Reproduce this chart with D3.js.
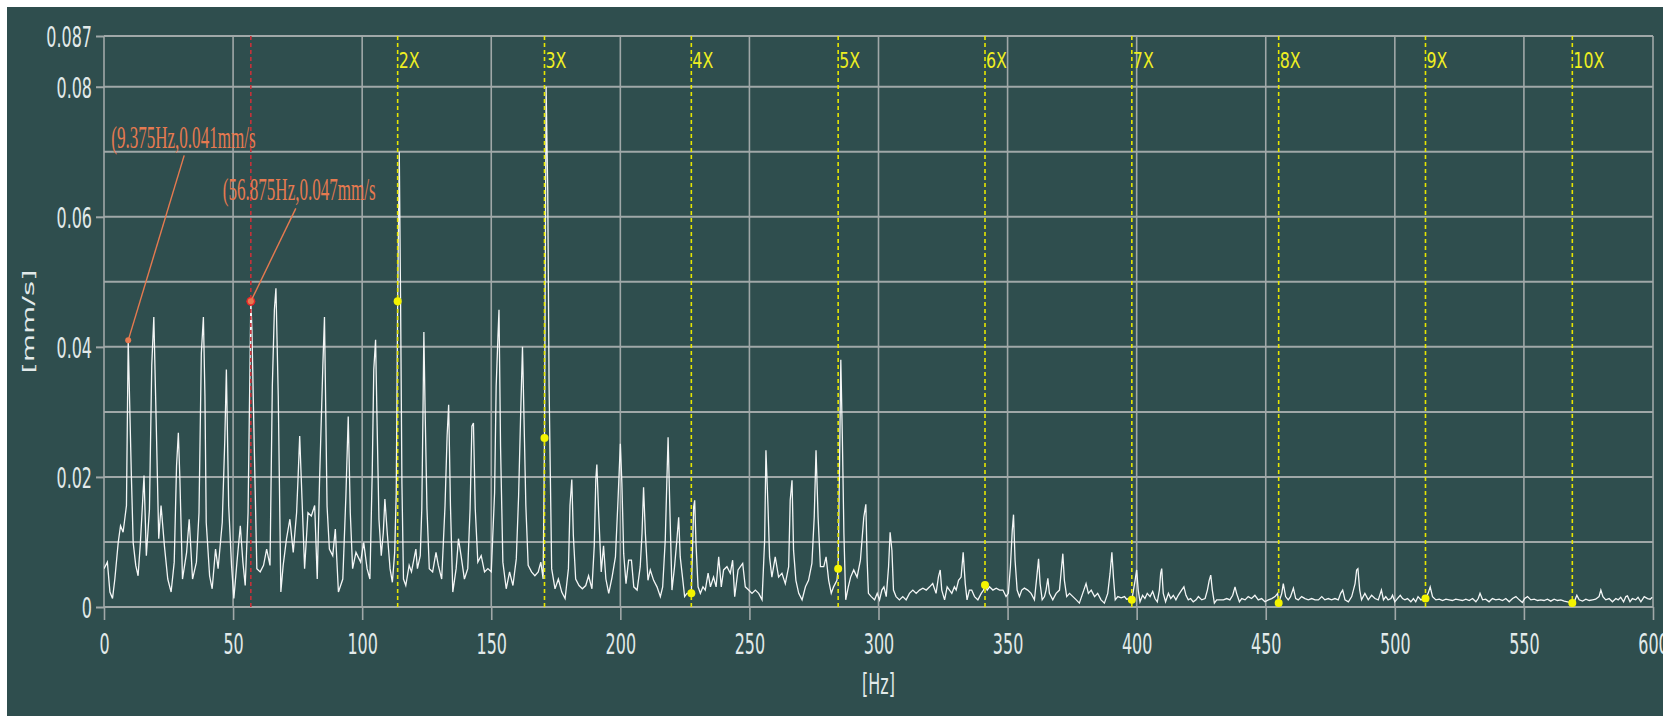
<!DOCTYPE html>
<html>
<head>
<meta charset="utf-8">
<script src="https://cdn.jsdelivr.net/npm/d3@7"></script>
<style>
  html, body { margin: 0; padding: 0; background: #ffffff; }
  svg { display: block; }
</style>
</head>
<body>
<svg id="chart" width="1663" height="716"></svg>
<script>
// spectrum: [frequency Hz, amplitude mm/s]
const spectrum = [
  [0,0.0059],[1.3,0.0069],[2.3,0.0023],[3.3,0.0013],[4.2,0.0043],[5.5,0.0099],[6.4,0.0125],[7.4,0.0115],[8.7,0.0156],[9.375,0.041],
  [10.6,0.0202],[11.3,0.0099],[12.3,0.0064],[13.2,0.0048],[14.1,0.0099],[15.5,0.0202],[16.4,0.0079],[17.6,0.0150],[18.5,0.0372],[19.3,0.0446],
  [20.2,0.0288],[21.2,0.0105],[22.1,0.0156],[23.4,0.0094],[24.7,0.0043],[26.0,0.0023],[27.2,0.0069],[28.1,0.0217],[28.8,0.0268],[29.4,0.0196],
  [30.4,0.0043],[32.0,0.0084],[33.0,0.0135],[34.3,0.0043],[35.8,0.0069],[36.8,0.0145],[37.7,0.0390],[38.5,0.0446],[39.1,0.0324],[39.6,0.0130],
  [40.9,0.0048],[41.9,0.0028],[43.2,0.0089],[44.2,0.0059],[45.8,0.0130],[46.8,0.0258],[47.4,0.0365],[48.3,0.0155],[49.4,0.0064],[50.3,0.0013],
  [51.5,0.0069],[52.8,0.0125],[53.8,0.0069],[54.7,0.0033],[55.8,0.0145],[56.875,0.047],[57.3,0.0426],[58.2,0.0247],[59.2,0.0059],[60.5,0.0054],
  [61.8,0.0064],[63.0,0.0089],[64.3,0.0064],[65.2,0.0339],[66.0,0.0457],[66.6,0.049],[67.5,0.0324],[68.5,0.0023],[69.4,0.0064],[70.7,0.0105],
  [72.0,0.0135],[73.3,0.0084],[74.6,0.0145],[75.2,0.0201],[75.8,0.0263],[76.7,0.0166],[77.7,0.0059],[79.0,0.0145],[80.3,0.0140],[81.6,0.0156],
  [82.6,0.0043],[83.5,0.0196],[84.8,0.0375],[85.4,0.0446],[86.4,0.0155],[87.3,0.0089],[88.6,0.0079],[89.6,0.0120],[90.8,0.0023],[92.5,0.0043],
  [93.7,0.0171],[94.6,0.0293],[95.4,0.0145],[96.3,0.0059],[97.6,0.0084],[99.4,0.0069],[100.6,0.0099],[101.9,0.0059],[103.0,0.0043],[103.9,0.0207],
  [104.5,0.0365],[105.2,0.0411],[105.8,0.0278],[106.5,0.0135],[107.4,0.0079],[108.2,0.0115],[108.8,0.0166],[109.7,0.0115],[110.8,0.0059],[111.7,0.0038],
  [112.6,0.0084],[113.2,0.0176],[113.75,0.047],[114.375,0.070],[114.9,0.046],[115.4,0.019],[116.0,0.0043],[116.9,0.0033],[118.2,0.0064],[119.1,0.0054],
  [120.8,0.0089],[121.4,0.0059],[122.5,0.0079],[123.1,0.0151],[123.6,0.0314],[123.9,0.0423],[124.4,0.0298],[125.1,0.0151],[126.0,0.0059],[127.3,0.0054],
  [128.6,0.0084],[129.5,0.0064],[130.8,0.0043],[132.1,0.0156],[132.9,0.0263],[133.5,0.0311],[134.2,0.0156],[135.1,0.0023],[136.4,0.0059],[137.3,0.0105],
  [138.3,0.0079],[139.6,0.0043],[140.9,0.0059],[141.8,0.0151],[142.5,0.0278],[143.1,0.0283],[143.8,0.0151],[144.8,0.0069],[146.1,0.0079],[147.4,0.0054],
  [148.7,0.0059],[150.0,0.0054],[151.3,0.0176],[151.9,0.0339],[152.6,0.0416],[153.0,0.0457],[153.6,0.0247],[154.5,0.0069],[155.8,0.0028],[157.1,0.0054],
  [158.4,0.0033],[159.7,0.0074],[160.6,0.0171],[161.4,0.0298],[162.1,0.0400],[162.7,0.0288],[163.4,0.0156],[164.3,0.0064],[165.6,0.0054],[166.9,0.0048],
  [168.2,0.0054],[169.2,0.0069],[170.1,0.0043],[170.625,0.026],[171.25,0.080],[171.875,0.064],[172.4,0.034],[173.4,0.0059],[174.7,0.0028],[176.0,0.0043],
  [177.3,0.0023],[178.6,0.0013],[179.9,0.0059],[180.5,0.0156],[181.2,0.0196],[181.8,0.0110],[182.7,0.0043],[184.0,0.0033],[185.3,0.0028],[186.6,0.0033],
  [187.7,0.0048],[189.0,0.0028],[189.9,0.0094],[190.5,0.0196],[190.9,0.0219],[191.6,0.0145],[192.6,0.0054],[193.5,0.0094],[194.4,0.0043],[195.5,0.0021],
  [196.8,0.0046],[198.1,0.0077],[199.1,0.0164],[200.0,0.0251],[200.6,0.0190],[201.3,0.0082],[202.2,0.0036],[203.2,0.0072],[204.3,0.0072],[205.2,0.0031],
  [206.5,0.0026],[207.7,0.0062],[208.4,0.0113],[209.0,0.0184],[209.7,0.0113],[210.7,0.0041],[211.6,0.0057],[212.9,0.0041],[214.2,0.0031],[215.5,0.0016],
  [216.4,0.0031],[217.4,0.0103],[218.1,0.0205],[218.5,0.0261],[219.1,0.0164],[220.0,0.0026],[221.0,0.0062],[221.9,0.0103],[222.6,0.0138],[223.2,0.0077],
  [223.9,0.0052],[224.9,0.0016],[225.8,0.0021],[227.5,0.0021],[228.4,0.0154],[228.8,0.0164],[229.3,0.0098],[230.1,0.0031],[231.0,0.0021],[232.0,0.0031],
  [232.9,0.0026],[234.0,0.0052],[234.9,0.0031],[236.1,0.0046],[237.1,0.0031],[238.1,0.0077],[239.1,0.0031],[240.0,0.0057],[241.3,0.0062],[242.6,0.0052],
  [243.5,0.0072],[244.3,0.0016],[245.6,0.0057],[246.5,0.0062],[247.4,0.0067],[248.4,0.0031],[249.7,0.0026],[251.0,0.0021],[252.3,0.0026],[253.6,0.0021],
  [254.9,0.0011],[255.9,0.0103],[256.4,0.0241],[257.2,0.0154],[257.8,0.0077],[258.7,0.0046],[260.0,0.0077],[261.3,0.0046],[262.6,0.0052],[263.9,0.0036],
  [265.2,0.0062],[265.8,0.0164],[266.5,0.0195],[267.1,0.0087],[268.0,0.0041],[269.1,0.0021],[270.4,0.0011],[271.7,0.0031],[272.9,0.0041],[274.2,0.0067],
  [275.1,0.0138],[275.8,0.0241],[276.6,0.0138],[277.5,0.0062],[278.8,0.0062],[279.7,0.0077],[280.7,0.0041],[281.7,0.0021],[282.6,0.0031],[283.9,0.0041],
  [284.375,0.0059],[284.9,0.0215],[285.4,0.038],[286.0,0.026],[286.6,0.0113],[287.3,0.0011],[288.3,0.0031],[289.2,0.0046],[290.4,0.0057],[291.7,0.0046],
  [293.0,0.0072],[294.3,0.0138],[295.1,0.0158],[295.6,0.0072],[296.1,0.0021],[297.2,0.0016],[298.5,0.0011],[299.5,0.0021],[300.4,0.0011],[301.3,0.0026],
  [302.1,0.0031],[303.0,0.0016],[303.9,0.0062],[304.5,0.0115],[305.2,0.0087],[305.8,0.0026],[306.8,0.0016],[308.1,0.0011],[309.4,0.0016],[310.7,0.0011],
  [312.0,0.0021],[313.3,0.0026],[314.6,0.0021],[315.9,0.0026],[317.2,0.0029],[318.5,0.0026],[319.8,0.0031],[321.0,0.0036],[322.3,0.0021],[323.2,0.0046],
  [323.9,0.0057],[324.5,0.0026],[325.6,0.0011],[326.6,0.0031],[327.5,0.0026],[328.4,0.0021],[329.4,0.0031],[330.1,0.0026],[331.0,0.0041],[332.0,0.0046],
  [332.8,0.0084],[333.6,0.0036],[334.3,0.0011],[335.2,0.0026],[336.1,0.0026],[337.2,0.0016],[338.5,0.0011],[339.8,0.0021],[340.7,0.0026],[341.25,0.0034],
  [342.1,0.0026],[343.0,0.0031],[344.3,0.0026],[345.6,0.0029],[346.9,0.0026],[348.2,0.0026],[349.4,0.0016],[350.3,0.0021],[351.1,0.0062],[351.8,0.0117],
  [352.3,0.0142],[352.9,0.0072],[353.7,0.0026],[354.6,0.0016],[355.5,0.0026],[356.5,0.0029],[357.8,0.0026],[359.1,0.0021],[360.4,0.0011],[361.3,0.0046],
  [362.0,0.0074],[362.6,0.0036],[363.4,0.0011],[364.3,0.0016],[364.9,0.0026],[365.6,0.0044],[366.2,0.0021],[367.5,0.0011],[368.8,0.0021],[370.1,0.0026],
  [370.7,0.0052],[371.4,0.0082],[372.0,0.0041],[372.9,0.0016],[374.0,0.0021],[375.3,0.0016],[376.6,0.0011],[377.8,0.0006],[379.1,0.0021],[380.4,0.0036],
  [381.3,0.0021],[382.4,0.0026],[383.7,0.0016],[384.9,0.0021],[386.2,0.0011],[387.5,0.0006],[388.8,0.0021],[389.7,0.0052],[390.4,0.0084],[391.0,0.0046],
  [391.7,0.0011],[392.7,0.0016],[394.0,0.0014],[395.3,0.0016],[396.1,0.0012],[397.4,0.0013],[398.125,0.0011],[399.4,0.0041],[400.0,0.0057],[400.6,0.0026],
  [401.3,0.0008],[402.3,0.0018],[403.2,0.0013],[404.1,0.0021],[405.2,0.0016],[406.2,0.0024],[407.1,0.0013],[408.0,0.0008],[408.8,0.0026],[409.3,0.0052],
  [409.7,0.0059],[410.3,0.0021],[411.2,0.0008],[412.3,0.0021],[413.2,0.0013],[414.2,0.0018],[415.2,0.0011],[416.1,0.0018],[417.4,0.0026],[418.3,0.0031],
  [419.1,0.0018],[420.0,0.0011],[420.9,0.0013],[421.9,0.0008],[423.0,0.0011],[423.9,0.0016],[425.2,0.0011],[426.5,0.0013],[427.4,0.0026],[428.1,0.0041],
  [428.7,0.0049],[429.3,0.0026],[430.1,0.0006],[431.0,0.0011],[432.3,0.0011],[433.6,0.0011],[434.9,0.0013],[436.1,0.0011],[437.2,0.0018],[438.1,0.0031],
  [438.7,0.0021],[439.8,0.0008],[440.7,0.0013],[442.0,0.0011],[443.2,0.0016],[444.5,0.0013],[445.8,0.0018],[447.1,0.0011],[448.4,0.0013],[449.7,0.0008],
  [451.0,0.0011],[452.3,0.0013],[453.6,0.0016],[454.6,0.0021],[455.0,0.0006],[456.2,0.0021],[456.8,0.0036],[457.7,0.0016],[458.7,0.0011],[459.6,0.0016],
  [460.7,0.0029],[461.6,0.0013],[462.6,0.0011],[463.9,0.0016],[465.2,0.0013],[466.5,0.0011],[467.8,0.0013],[469.1,0.0011],[470.4,0.0011],[471.7,0.0016],
  [472.9,0.0011],[474.2,0.0013],[475.5,0.0011],[476.8,0.0013],[478.1,0.0011],[479.0,0.0021],[479.8,0.0026],[480.7,0.0011],[482.0,0.0008],[483.3,0.0016],
  [484.6,0.0036],[485.2,0.0057],[485.7,0.0059],[486.4,0.0026],[487.1,0.0011],[488.4,0.0021],[489.7,0.0011],[491.0,0.0018],[492.3,0.0013],[493.6,0.0011],
  [494.8,0.0026],[495.6,0.0011],[496.5,0.0016],[497.4,0.0011],[498.5,0.0013],[499.1,0.0018],[500.0,0.0008],[501.0,0.0013],[502.1,0.0018],[503.0,0.0013],
  [503.9,0.0011],[504.9,0.0013],[506.2,0.0008],[507.2,0.0013],[508.1,0.0008],[509.0,0.0016],[510.1,0.0011],[511.1,0.0013],[511.875,0.0013],[512.9,0.0021],
  [513.7,0.0031],[514.6,0.0016],[515.9,0.0011],[517.2,0.0012],[518.5,0.0010],[519.8,0.0012],[521.0,0.0011],[522.3,0.0010],[523.6,0.0012],[524.9,0.0011],
  [526.2,0.0010],[527.5,0.0012],[528.8,0.0010],[530.1,0.0013],[531.4,0.0008],[532.3,0.0013],[533.0,0.0021],[534.0,0.0011],[535.2,0.0012],[536.5,0.0008],
  [537.8,0.0013],[539.1,0.0011],[540.4,0.0012],[541.7,0.0010],[543.0,0.0013],[544.3,0.0008],[545.6,0.0013],[546.9,0.0016],[548.2,0.0011],[549.4,0.0007],
  [550.3,0.0013],[551.4,0.0016],[552.7,0.0011],[554.0,0.0012],[555.3,0.0010],[556.5,0.0011],[557.8,0.0010],[559.1,0.0012],[560.4,0.0009],[561.7,0.0012],
  [563.0,0.0010],[564.3,0.0011],[565.6,0.0009],[566.9,0.0008],[568.75,0.0006],[569.5,0.0008],[570.5,0.0018],[571.4,0.0011],[572.7,0.0009],[574.0,0.0012],
  [575.3,0.0010],[576.6,0.0011],[577.8,0.0012],[579.1,0.0016],[579.8,0.0026],[580.6,0.0016],[581.7,0.0011],[583.0,0.0013],[584.3,0.0008],[585.6,0.0013],
  [586.5,0.0011],[587.5,0.0015],[588.6,0.0008],[589.5,0.0016],[590.1,0.0017],[591.1,0.0008],[592.0,0.0013],[593.3,0.0011],[594.2,0.0015],[595.3,0.0008],
  [596.6,0.0016],[597.9,0.0013],[598.9,0.0012],[599.7,0.0015]
];

// running-speed harmonics 1X..10X
const harmonicHz = [56.875, 113.75, 170.625, 227.5, 284.375, 341.25, 398.125, 455, 511.875, 568.75];
const harmonicLabels = ["1X", "2X", "3X", "4X", "5X", "6X", "7X", "8X", "9X", "10X"];

const annotations = [
  { hz: 9.375, amp: 0.041, text: "(9.375Hz,0.041mm/s" },
  { hz: 56.875, amp: 0.047, text: "(56.875Hz,0.047mm/s" }
];

const xTicks = [0, 50, 100, 150, 200, 250, 300, 350, 400, 450, 500, 550, 600];
const yMax = 0.0878;
const yTicks = [0, 0.02, 0.04, 0.06, 0.08, yMax];
const yTickLabels = ["0", "0.02", "0.04", "0.06", "0.08", "0.087"];
const yGrid = [0, 0.01, 0.02, 0.03, 0.04, 0.05, 0.06, 0.07, 0.08, yMax];

// layout
const plot = { left: 104, right: 1653, top: 36, bottom: 607 };
const squeeze = 0.55;           // narrow look of the original lettering
const annotLayout = [
  { tx: -17, ty: -192, lx: 56, ly: -185 },
  { tx: -28, ty: -101, lx: 45, ly: -93 }
];
const gridColor = "#a0a8a8";
const textColor = "#e2eaea";

const svg = d3.select("#chart");

svg.append("rect")
  .attr("x", 7).attr("y", 7)
  .attr("width", 1663 - 7).attr("height", 716 - 7)
  .attr("fill", "#2f4e4e");

const x = d3.scaleLinear().domain([0, 600]).range([plot.left, plot.right]);
const y = d3.scaleLinear().domain([0, yMax]).range([plot.bottom, plot.top]);

// grid
svg.append("g").selectAll("line").data(xTicks).join("line")
  .attr("x1", d => x(d)).attr("x2", d => x(d))
  .attr("y1", plot.top).attr("y2", plot.bottom)
  .attr("stroke", gridColor).attr("stroke-width", 1.6);

svg.append("g").selectAll("line").data(yGrid).join("line")
  .attr("x1", plot.left).attr("x2", plot.right)
  .attr("y1", d => y(d)).attr("y2", d => y(d))
  .attr("stroke", gridColor).attr("stroke-width", 2);

// axes
const xAxis = svg.append("g")
  .attr("transform", `translate(0,${plot.bottom})`)
  .call(d3.axisBottom(x).tickValues(xTicks).tickSize(13).tickFormat(d3.format("d")));
xAxis.select(".domain").remove();
xAxis.selectAll(".tick line").attr("stroke", gridColor).attr("stroke-width", 1.6);
xAxis.selectAll(".tick text")
  .attr("y", 47).attr("dy", null)
  .attr("transform", `scale(${squeeze},1)`)
  .attr("fill", textColor)
  .style("font-family", "'DejaVu Sans', Verdana, sans-serif")
  .style("font-size", "29px");

const yAxis = svg.append("g")
  .attr("transform", `translate(${plot.left},0)`)
  .call(d3.axisLeft(y).tickValues(yTicks).tickSize(8).tickFormat((d, i) => yTickLabels[i]));
yAxis.select(".domain").remove();
yAxis.selectAll(".tick line").attr("stroke", gridColor).attr("stroke-width", 2);
yAxis.selectAll(".tick text")
  .attr("x", -12 / squeeze).attr("dy", "0.36em")
  .attr("transform", `scale(${squeeze},1)`)
  .attr("fill", textColor)
  .style("font-family", "'DejaVu Sans', Verdana, sans-serif")
  .style("font-size", "29px");

// axis titles
svg.append("text")
  .attr("transform", `translate(${(plot.left + plot.right) / 2},694) scale(${squeeze},1)`)
  .attr("text-anchor", "middle")
  .attr("fill", textColor)
  .style("font-family", "'DejaVu Sans', Verdana, sans-serif")
  .style("font-size", "29px")
  .text("[Hz]");

svg.append("text")
  .attr("transform", `translate(28,${(plot.top + plot.bottom) / 2}) rotate(-90) scale(1,${squeeze})`)
  .attr("text-anchor", "middle")
  .attr("dy", "0.36em")
  .attr("fill", textColor)
  .style("font-family", "'DejaVu Sans', Verdana, sans-serif")
  .style("font-size", "29px")
  .text("[mm/s]");

// spectrum
svg.append("defs").append("clipPath").attr("id", "plotClip")
  .append("rect")
  .attr("x", plot.left).attr("y", plot.top)
  .attr("width", plot.right - plot.left).attr("height", plot.bottom - plot.top);

const line = d3.line().x(d => x(d[0])).y(d => y(d[1]));
svg.append("path")
  .datum(spectrum)
  .attr("clip-path", "url(#plotClip)")
  .attr("d", line)
  .attr("fill", "none")
  .attr("stroke", "#f4f6f6")
  .attr("stroke-width", 1.3);

// harmonic cursors
svg.append("g").selectAll("line").data(harmonicHz).join("line")
  .attr("x1", d => x(d)).attr("x2", d => x(d))
  .attr("y1", plot.top).attr("y2", plot.bottom)
  .attr("stroke", (d, i) => i === 0 ? "#c8323a" : "#e6e600")
  .attr("stroke-width", 1.6)
  .attr("stroke-dasharray", "4,3");

svg.append("g").selectAll("text").data(harmonicHz.slice(1)).join("text")
  .attr("transform", d => `translate(${x(d) + 1},68) scale(0.72,1)`)
  .attr("fill", "#eeee22")
  .style("font-family", "'DejaVu Sans', Verdana, sans-serif")
  .style("font-size", "22px")
  .text((d, i) => harmonicLabels[i + 1]);

const harmonicPoints = harmonicHz.slice(1).map(h => d3.least(spectrum, d => Math.abs(d[0] - h)));
svg.append("g").selectAll("circle").data(harmonicPoints).join("circle")
  .attr("cx", d => x(d[0])).attr("cy", d => y(d[1]))
  .attr("r", 4)
  .attr("fill", "#f4f400");

// cursor marker on 1X
svg.append("circle")
  .attr("cx", x(harmonicHz[0])).attr("cy", y(annotations[1].amp))
  .attr("r", 4.5)
  .attr("fill", "#e8282a");

// annotations
const annColor = "#e67a50";
annotations.forEach((a, i) => {
  const px = x(a.hz), py = y(a.amp), L = annotLayout[i];
  svg.append("line")
    .attr("x1", px + L.lx).attr("y1", py + L.ly)
    .attr("x2", px).attr("y2", py)
    .attr("stroke", annColor).attr("stroke-width", 1.4);
  svg.append("circle")
    .attr("cx", px).attr("cy", py).attr("r", 3)
    .attr("fill", annColor);
  svg.append("text")
    .attr("transform", `translate(${px + L.tx},${py + L.ty}) scale(${squeeze},1)`)
    .attr("fill", annColor)
    .style("font-family", "'Liberation Serif', 'Times New Roman', serif")
    .style("font-size", "31px")
    .text(a.text);
});
</script>
</body>
</html>
